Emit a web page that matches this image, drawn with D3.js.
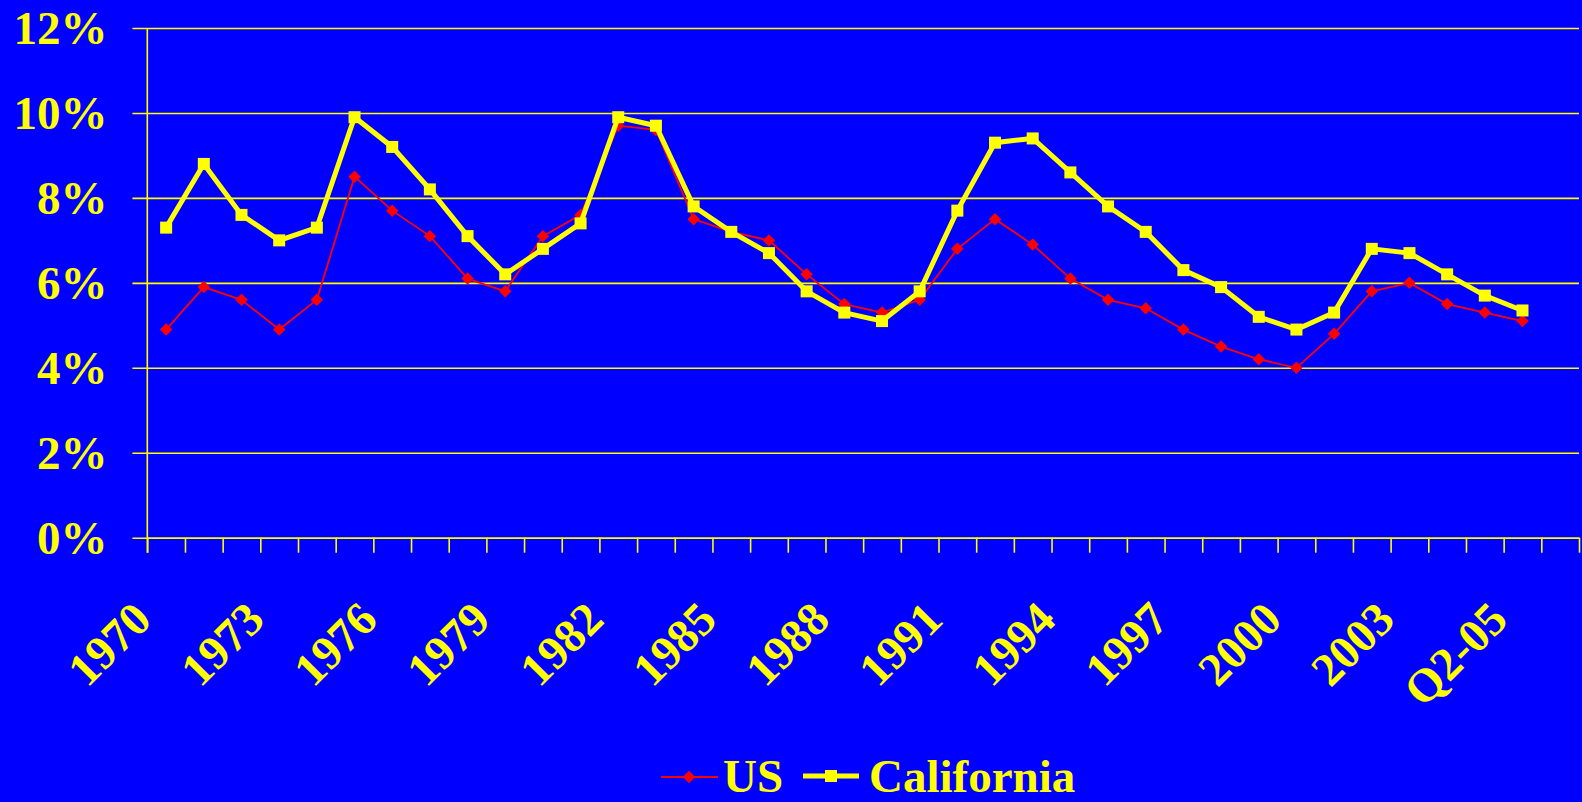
<!DOCTYPE html>
<html>
<head>
<meta charset="utf-8">
<script src="https://cdn.jsdelivr.net/npm/d3@7"></script>
<style>
  html, body { margin: 0; padding: 0; background: #0000ff; overflow: hidden; }
  text { font-family: "Liberation Serif", "Times New Roman", serif; font-weight: bold; fill: #ffff00; }
</style>
</head>
<body>
<div id="chart"></div>
<script>
const WIDTH = 1582; // page width
const HEIGHT = 802; // page height

// categories (last one is an empty slot at the end of the axis)
const categories = ["1970","1971","1972","1973","1974","1975","1976","1977","1978","1979",
  "1980","1981","1982","1983","1984","1985","1986","1987","1988","1989",
  "1990","1991","1992","1993","1994","1995","1996","1997","1998","1999",
  "2000","2001","2002","2003","2004","Q1-05","Q2-05",""];
const shownLabels = ["1970","1973","1976","1979","1982","1985","1988","1991","1994","1997","2000","2003","Q2-05"];

// unemployment rate, %
const usRate = [4.9,5.9,5.6,4.9,5.6,8.5,7.7,7.1,6.1,5.8,7.1,7.6,9.7,9.6,7.5,7.2,7.0,6.2,5.5,5.3,
  5.6,6.8,7.5,6.9,6.1,5.6,5.4,4.9,4.5,4.2,4.0,4.8,5.8,6.0,5.5,5.3,5.1];
const caRate = [7.3,8.8,7.6,7.0,7.3,9.9,9.2,8.2,7.1,6.2,6.8,7.4,9.9,9.7,7.8,7.2,6.7,5.8,5.3,5.1,
  5.8,7.7,9.3,9.4,8.6,7.8,7.2,6.3,5.9,5.2,4.9,5.3,6.8,6.7,6.2,5.7,5.35];
const yTicks = [0,2,4,6,8,10,12];

const plotLeft = 147.3, plotRight = 1579, plotTop = 28, plotBottom = 537.7;

const svg = d3.select("#chart").append("svg")
  .attr("width", WIDTH)
  .attr("height", HEIGHT);

svg.append("rect").attr("width", WIDTH).attr("height", HEIGHT).attr("fill", "#0000ff");

const x = d3.scaleBand().domain(categories).range([plotLeft, plotRight]).padding(0);
const xEdge = d3.scaleLinear().domain([0, categories.length]).range([plotLeft, plotRight]); // band edges for tick marks
const y = d3.scaleLinear().domain([0, 12]).range([plotBottom, plotTop]);
const cx = (i) => x(categories[i]) + x.bandwidth() / 2;

// gridlines + y labels (axis placed at right, ticks run back to the left)
const yAxis = svg.append("g")
  .attr("transform", `translate(${plotRight},0)`)
  .call(d3.axisLeft(y).tickValues(yTicks).tickSize(plotRight - 132.4).tickPadding(25).tickFormat(d => d + "%"));
yAxis.select(".domain").remove();
yAxis.selectAll("line").attr("stroke", "#ffff00").attr("stroke-width", 1.6);
yAxis.selectAll("text")
  .attr("fill", "#ffff00")
  .style("font-size", "47px")
  .attr("dy", "0.34em");

// y axis line
svg.append("line")
  .attr("x1", plotLeft).attr("x2", plotLeft)
  .attr("y1", plotTop).attr("y2", plotBottom + 15)
  .attr("stroke", "#ffff00").attr("stroke-width", 1.6);

// x tick marks at category edges
const xAxis = svg.append("g")
  .attr("transform", `translate(0,${plotBottom})`)
  .call(d3.axisBottom(xEdge).tickValues(d3.range(categories.length + 1)).tickSize(15).tickSizeOuter(0).tickFormat(""));
xAxis.select(".domain").attr("stroke", "#ffff00").attr("stroke-width", 1.6);
xAxis.selectAll("line").attr("stroke", "#ffff00").attr("stroke-width", 1.6);

// rotated category labels
svg.append("g").selectAll("text")
  .data(shownLabels)
  .enter()
  .append("text")
  .attr("text-anchor", "end")
  .style("font-size", "47px")
  .attr("transform", d => `translate(${x(d) + x.bandwidth() / 2 - 12.5},622) rotate(-45)`)
  .text(d => d);

const line = d3.line().x((d, i) => cx(i)).y(d => y(d));

// US series
svg.append("path")
  .datum(usRate)
  .attr("d", line)
  .attr("fill", "none")
  .attr("stroke", "#ff0000")
  .attr("stroke-width", 1.8);
svg.append("g").selectAll("path")
  .data(usRate)
  .enter()
  .append("path")
  .attr("d", d3.symbol().type(d3.symbolSquare).size(78))
  .attr("transform", (d, i) => `translate(${cx(i)},${y(d)}) rotate(45)`)
  .attr("fill", "#ff0000");

// California series
svg.append("path")
  .datum(caRate)
  .attr("d", line)
  .attr("fill", "none")
  .attr("stroke", "#ffff00")
  .attr("stroke-width", 5)
  .attr("stroke-linejoin", "miter");
svg.append("g").selectAll("rect")
  .data(caRate)
  .enter()
  .append("rect")
  .attr("x", (d, i) => cx(i) - 6)
  .attr("y", d => y(d) - 6)
  .attr("width", 12)
  .attr("height", 12)
  .attr("fill", "#ffff00");

// legend
const legend = svg.append("g");
legend.append("line").attr("x1", 661).attr("x2", 718).attr("y1", 777).attr("y2", 777)
  .attr("stroke", "#ff0000").attr("stroke-width", 1.8);
legend.append("path")
  .attr("d", d3.symbol().type(d3.symbolSquare).size(78))
  .attr("transform", "translate(689,777) rotate(45)")
  .attr("fill", "#ff0000");
legend.append("text").attr("x", 723).attr("y", 792).style("font-size", "47px").text("US");

legend.append("line").attr("x1", 803).attr("x2", 859).attr("y1", 776).attr("y2", 776)
  .attr("stroke", "#ffff00").attr("stroke-width", 5);
legend.append("rect").attr("x", 825).attr("y", 770).attr("width", 12).attr("height", 12).attr("fill", "#ffff00");
legend.append("text").attr("x", 869).attr("y", 792).style("font-size", "47px").text("California");
</script>
</body>
</html>
